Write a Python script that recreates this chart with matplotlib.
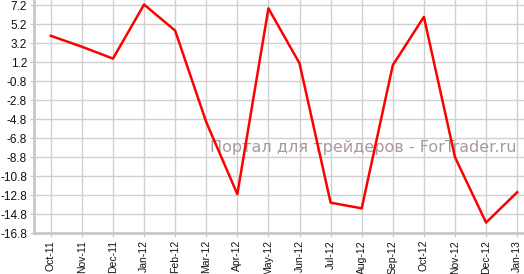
import numpy as np
import matplotlib.pyplot as plt

# data
months = ["Oct-11", "Nov-11", "Dec-11", "Jan-12", "Feb-12", "Mar-12", "Apr-12", "May-12",
          "Jun-12", "Jul-12", "Aug-12", "Sep-12", "Oct-12", "Nov-12", "Dec-12", "Jan-13"]
values = [4.0, 2.85, 1.6, 7.3, 4.55, -5.1, -12.7, 6.9,
          1.1, -13.6, -14.2, 0.9, 6.0, -8.8, -15.7, -12.5]
yticks = [7.2, 5.2, 3.2, 1.2, -0.8, -2.8, -4.8, -6.8, -8.8, -10.8, -12.8, -14.8, -16.8]

fig = plt.figure(figsize=(5.24, 2.74), dpi=100)
ax = fig.add_axes([34 / 524, 41 / 274, 490 / 524, 233 / 274])

x = np.arange(len(months))
ax.plot(x, values, color="#ff0000", linewidth=1.8, zorder=3)

ax.set_xlim(-0.54, 15.22)
ax.set_ylim(-16.8, 7.78)
ax.set_xticks(x)
ax.set_xticklabels(months, rotation=90, fontsize=7.5, family="Liberation Sans")
ax.set_yticks(yticks)
ax.set_yticklabels([f"{v:.1f}" for v in yticks], fontsize=8.5, family="Liberation Sans")
ax.grid(True, color="#d0d0d0", linewidth=1)
ax.set_axisbelow(True)

for side in ["top", "right"]:
    ax.spines[side].set_visible(False)
for side in ["left", "bottom"]:
    ax.spines[side].set_color("#c8c8c8")
    ax.spines[side].set_linewidth(2)
ax.tick_params(axis="both", color="#c8c8c8", length=3, pad=2, labelcolor="#111111")

ax.text(0.985, 0.365, "Портал для трейдеров - ForTrader.ru", transform=ax.transAxes,
        ha="right", va="center", fontsize=11.5, color="#a89a9a", zorder=2)

fig.savefig("out.png", dpi=100)
